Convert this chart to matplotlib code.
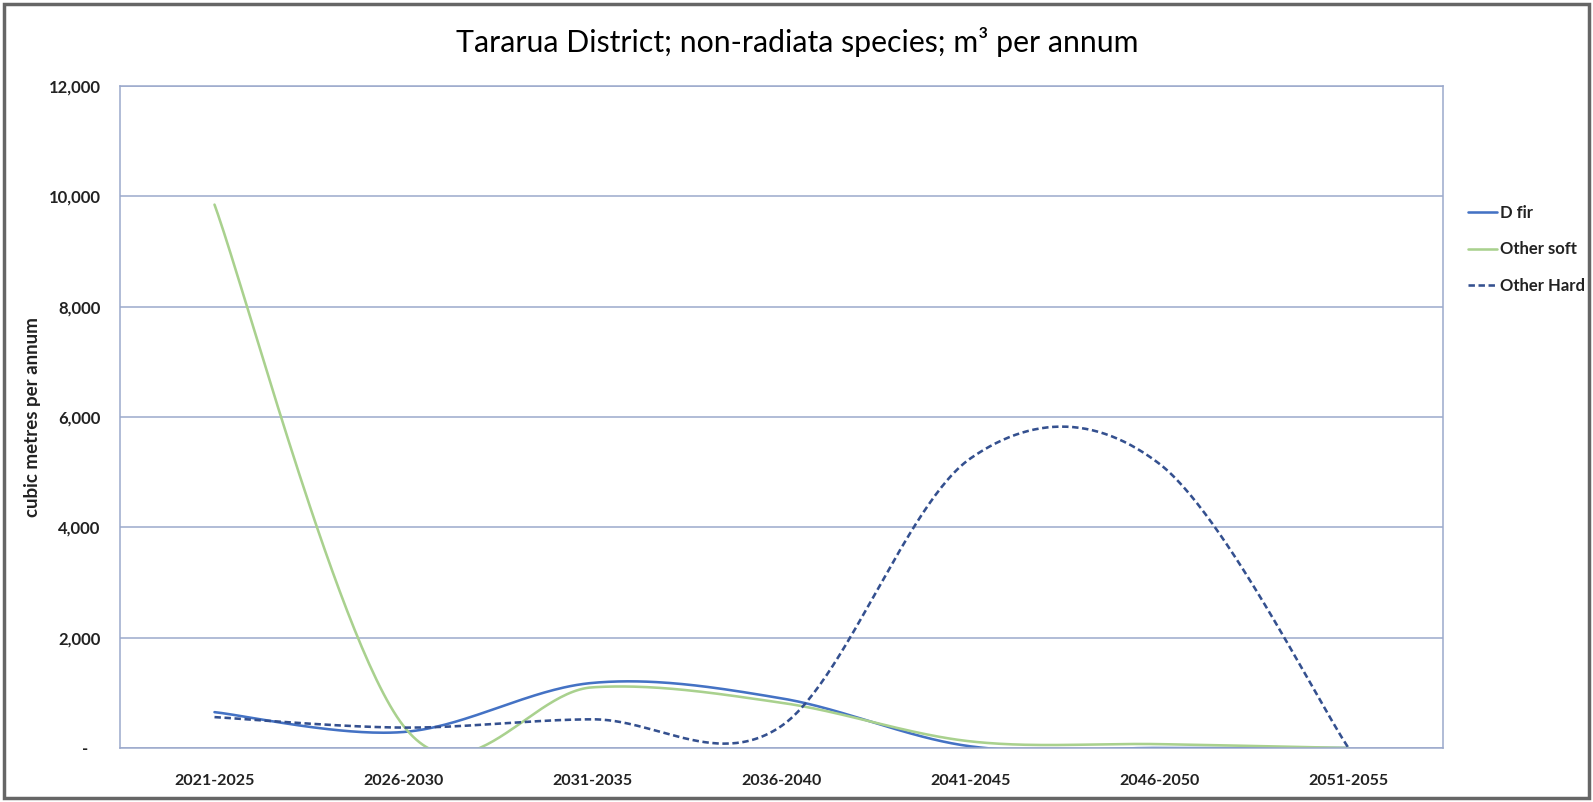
import numpy as np
import matplotlib
matplotlib.use("Agg")
import matplotlib.pyplot as plt
from matplotlib.patches import Rectangle
from matplotlib.ticker import FuncFormatter

categories = ["2021-2025", "2026-2030", "2031-2035", "2036-2040",
              "2041-2045", "2046-2050", "2051-2055"]
d_fir = [650, 290, 1180, 900, 30, 0, 0]
other_soft = [9850, 400, 1100, 820, 120, 70, 0]
other_hard = [560, 370, 520, 400, 5250, 5150, 0]

series = [
    ("D fir", d_fir, "#4472C4", "-"),
    ("Other soft", other_soft, "#A9D18E", "-"),
    ("Other Hard", other_hard, "#34508F", (0, (2.5, 1.4))),
]

FONT = "Lato"
plt.rcParams["font.family"] = [FONT, "DejaVu Sans"]


def smooth(xs, ys, n=60):
    """Excel-like smoothed line: Catmull-Rom converted to cubic Bezier."""
    P = np.column_stack([xs, ys]).astype(float)
    m = len(P)
    out = []
    for i in range(m - 1):
        p0 = P[max(i - 1, 0)]
        p1 = P[i]
        p2 = P[i + 1]
        p3 = P[min(i + 2, m - 1)]
        c1 = p1 + (p2 - p0) / 6.0
        c2 = p2 - (p3 - p1) / 6.0
        t = np.linspace(0, 1, n)[:, None]
        seg = ((1 - t) ** 3) * p1 + 3 * ((1 - t) ** 2) * t * c1 \
            + 3 * (1 - t) * t ** 2 * c2 + t ** 3 * p2
        out.append(seg if i == 0 else seg[1:])
    arr = np.vstack(out)
    return arr[:, 0], arr[:, 1]


W, H = 1593, 802
fig = plt.figure(figsize=(W / 100, H / 100), dpi=100)
ax = fig.add_axes([120 / W, (H - 748) / H, (1443 - 120) / W, (748 - 86) / H])

x = np.arange(len(categories))
for name, vals, col, ls in series:
    sx, sy = smooth(x, vals)
    ax.plot(sx, sy, color=col, lw=1.85, linestyle=ls, label=name,
            solid_capstyle="round")

ax.set_xlim(-0.5, len(categories) - 0.5)
ax.set_ylim(0, 12000)
ax.set_yticks(np.arange(0, 12001, 2000))
ax.yaxis.set_major_formatter(FuncFormatter(
    lambda v, p: "-   " if v == 0 else f"{int(v):,}"))
ax.set_xticks(x)
ax.set_xticklabels(categories)

grid_col = "#9BA9CC"
ax.grid(axis="y", color=grid_col, lw=1.1)
ax.set_axisbelow(True)
for s in ax.spines.values():
    s.set_color(grid_col)
    s.set_linewidth(1.1)

ax.tick_params(axis="both", length=0, colors="#222222")
ax.tick_params(axis="x", pad=19, labelsize=11.5)
ax.tick_params(axis="y", pad=14, labelsize=12)
for lab in ax.get_xticklabels() + ax.get_yticklabels():
    lab.set_fontweight("bold")

fig.text(33 / W, 1 - 417 / H, "cubic metres per annum", rotation=90,
         ha="center", va="center", fontsize=13.5, fontweight="bold",
         color="#222222")

fig.text(0.5 * (457 + 1138) / W, 1 - 42 / H,
         "Tararua District; non-radiata species; m³ per annum",
         ha="center", va="center", fontsize=21.8, color="#000000")

leg = ax.legend(loc="upper left", bbox_to_anchor=(1468 / W, 1 - 205 / H),
                bbox_transform=fig.transFigure, frameon=False,
                borderaxespad=0, borderpad=0, handlelength=1.75,
                handletextpad=0.15, labelspacing=1.22,
                prop={"family": FONT, "size": 12, "weight": "bold"})
for t in leg.get_texts():
    t.set_color("#222222")

fig.patches.append(Rectangle((4 / W, 4 / H), 1 - 8 / W, 1 - 8 / H,
                             transform=fig.transFigure, fill=False,
                             edgecolor="#666666", lw=2.5))

fig.savefig("out.png", dpi=100)
